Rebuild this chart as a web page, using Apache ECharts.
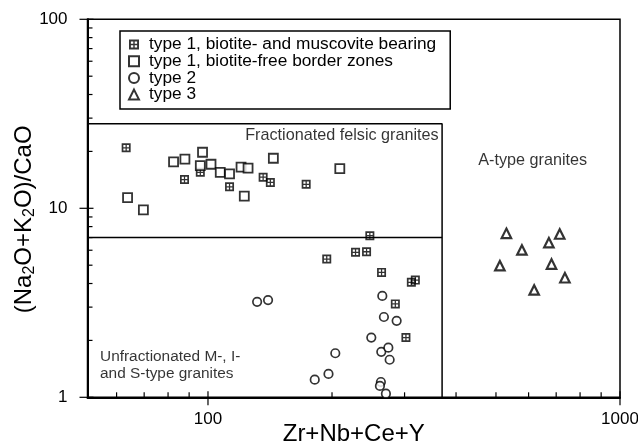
<!DOCTYPE html>
<html><head><meta charset="utf-8">
<script src="https://cdn.jsdelivr.net/npm/echarts/dist/echarts.min.js"></script>
<style>html,body{margin:0;padding:0;background:#fff}#c{width:638px;height:446px}</style>
</head><body><div id="c"></div>
<script>
// ---- data ----
const seriesNames = ['type 1, biotite- and muscovite bearing', 'type 1, biotite-free border zones', 'type 2', 'type 3'];
const type1Bearing = [[63.3,20.9],[87.7,14.2],[95.8,15.5],[112.8,13.0],[136.1,14.6],[141.7,13.7],[173.1,13.4],
  [247.1,7.16],[228.1,5.85],[242.6,5.89],[194.2,5.39],[263.8,4.58],[311.6,4.06],[318.6,4.17],[284.9,3.12],[302.3,2.07]];
const type1Border = [[63.8,11.4],[69.7,9.8],[82.5,17.6],[87.9,18.2],[97.0,19.8],[95.8,16.8],[101.7,17.1],[107.1,15.5],
  [112.8,15.2],[120.3,16.5],[125.1,16.3],[122.5,11.6],[144.1,18.4],[208.9,16.2]];
const type2 = [[131.6,3.20],[139.9,3.27],[264.9,3.44],[267.3,2.66],[287.0,2.54],[249.1,2.07],[263.4,1.74],[274.0,1.83],
  [276.0,1.58],[203.7,1.71],[196.1,1.33],[181.6,1.24],[262.8,1.205],[261.4,1.148],[270.3,1.045]];
const type3 = [[530,7.37],[578,6.02],[511,4.97],[714,7.31],[672,6.58],[682,5.07],[735,4.29],[619,3.70]];
const xRange = [51, 1000];
const yRange = [1, 100];
const fgTop = 28, fgBottom = 7, aTypeX = 370;
const xMajorTicks = [100, 1000];
const xMinorTicks = [60,70,80,90,200,300,400,500,600,700,800,900];
const yMajorTicks = [1, 10, 100];
const yMinorTicks = [2,3,4,5,6,7,8,9,20,30,40,50,60,70,80,90];
const regionLabels = [
  [363, 24.4, 'Fractionated felsic granites', 'right'],
  [614, 18.0, 'A-type granites', 'center'],
  [54.7, 1.48, 'Unfractionated M-, I-\nand S-type granites', 'left']
];

const FONT = '"Liberation Sans", Arial, Helvetica, sans-serif';
const crossedSquare = 'path://M0 0H10V10H0Z M1.9 1.9V4.3H4.3V1.9Z M5.7 1.9V4.3H8.1V1.9Z M1.9 5.7V8.1H4.3V5.7Z M5.7 5.7V8.1H8.1V5.7Z';
const regionFontSizes = [16.2, 16.2, 15.4];

const chart = echarts.init(document.getElementById('c'), null, {renderer: 'canvas'});

function tickRender(isX) {
  return function (params, api) {
    const major = api.value(2);
    const p = api.coord([api.value(0), api.value(1)]);
    const inLen = major ? 6 : 5;
    const outLen = major ? 8 : 0;
    let shape;
    if (isX) shape = {x1: p[0], y1: p[1] + outLen, x2: p[0], y2: p[1] - inLen};
    else shape = {x1: p[0] - outLen, y1: p[1], x2: p[0] + inLen, y2: p[1]};
    return {type: 'line', shape: shape, style: {stroke: '#000', lineWidth: 1.2}};
  };
}

const option = {
  animation: false,
  backgroundColor: '#fff',
  textStyle: {fontFamily: FONT},
  grid: {left: 87.5, right: 18, top: 19.3, bottom: 48.7, show: true, borderColor: '#000', borderWidth: 1.5,
         containLabel: false, outerBoundsMode: 'none'},
  xAxis: {
    type: 'log', logBase: 10, min: xRange[0], max: xRange[1],
    name: 'Zr+Nb+Ce+Y', nameLocation: 'middle', nameGap: 25, nameMoveOverlap: false,
    nameTextStyle: {fontSize: 24, color: '#000', fontFamily: FONT},
    axisLine: {show: true, lineStyle: {color: '#000', width: 2}},
    axisTick: {show: false}, minorTick: {show: false},
    splitLine: {show: false}, minorSplitLine: {show: false},
    axisLabel: {showMinLabel: false, margin: 14, fontSize: 17, color: '#000', fontFamily: FONT,
                formatter: v => String(Math.round(v))}
  },
  yAxis: {
    type: 'log', logBase: 10, min: yRange[0], max: yRange[1],
    name: '(Na{s|2}O+K{s|2}O)/CaO', nameLocation: 'middle', nameGap: 50, nameMoveOverlap: false,
    nameTextStyle: {fontSize: 24, color: '#000', fontFamily: FONT, padding: [0, 22, 0, 0],
      rich: {s: {fontSize: 16, fontFamily: FONT, color: '#000', padding: [10, 0, 0, 0], verticalAlign: 'bottom'}}},
    axisLine: {show: true, lineStyle: {color: '#000', width: 2}},
    axisTick: {show: false}, minorTick: {show: false},
    splitLine: {show: false}, minorSplitLine: {show: false},
    axisLabel: {margin: 20, fontSize: 17, color: '#000', fontFamily: FONT,
                formatter: v => String(Math.round(v))}
  },
  legend: {
    orient: 'vertical', left: 120, top: 31, data: seriesNames, selectedMode: false,
    itemWidth: 10, itemHeight: 10, itemGap: -0.3,
    borderColor: '#000', borderWidth: 1.5, padding: [5, 14, 6, 8],
    textStyle: {fontSize: 17.3, color: '#000', fontFamily: FONT, lineHeight: 15.7, padding: [0, 0, 0, 5]}
  },
  series: [
    {type: 'custom', silent: true, clip: false, z: 5, renderItem: tickRender(true), encode: {x: 0, y: 1},
     data: xMajorTicks.map(v => [v, yRange[0], 1]).concat(xMinorTicks.map(v => [v, yRange[0], 0]))},
    {type: 'custom', silent: true, clip: false, z: 5, renderItem: tickRender(false), encode: {x: 0, y: 1},
     data: yMajorTicks.map(v => [xRange[0], v, 1]).concat(yMinorTicks.map(v => [xRange[0], v, 0]))},
    {type: 'line', silent: true, symbol: 'none', z: 3, lineStyle: {color: '#000', width: 1.5},
     data: [[xRange[0], fgTop], [aTypeX, fgTop], [aTypeX, yRange[0]]]},
    {type: 'line', silent: true, symbol: 'none', z: 3, lineStyle: {color: '#000', width: 1.5},
     data: [[xRange[0], fgBottom], [aTypeX, fgBottom]]},
    {type: 'scatter', silent: true, symbolSize: 0, z: 4,
     data: regionLabels.map((r, i) => ({value: [r[0], r[1]], label: {align: r[3], fontSize: regionFontSizes[i]}, text: r[2]})),
     label: {show: true, position: [0, 0], verticalAlign: 'middle', lineHeight: 16.7,
             color: '#000', fontFamily: FONT, formatter: p => p.data.text}},
    {name: seriesNames[0], type: 'scatter', symbol: crossedSquare, symbolSize: 9, z: 10,
     itemStyle: {color: '#000', borderWidth: 0}, data: type1Bearing},
    {name: seriesNames[1], type: 'scatter', symbol: 'rect', symbolSize: 9, z: 11,
     itemStyle: {color: '#fff', borderColor: '#000', borderWidth: 1.8}, data: type1Border},
    {name: seriesNames[2], type: 'scatter', symbol: 'circle', symbolSize: 8.5, z: 10,
     itemStyle: {color: '#fff', borderColor: '#000', borderWidth: 1.7}, data: type2},
    {name: seriesNames[3], type: 'scatter', symbol: 'triangle', symbolSize: 9.5, z: 10,
     itemStyle: {color: '#fff', borderColor: '#000', borderWidth: 2.2}, data: type3}
  ]
};
chart.setOption(option);
</script>
</body></html>
